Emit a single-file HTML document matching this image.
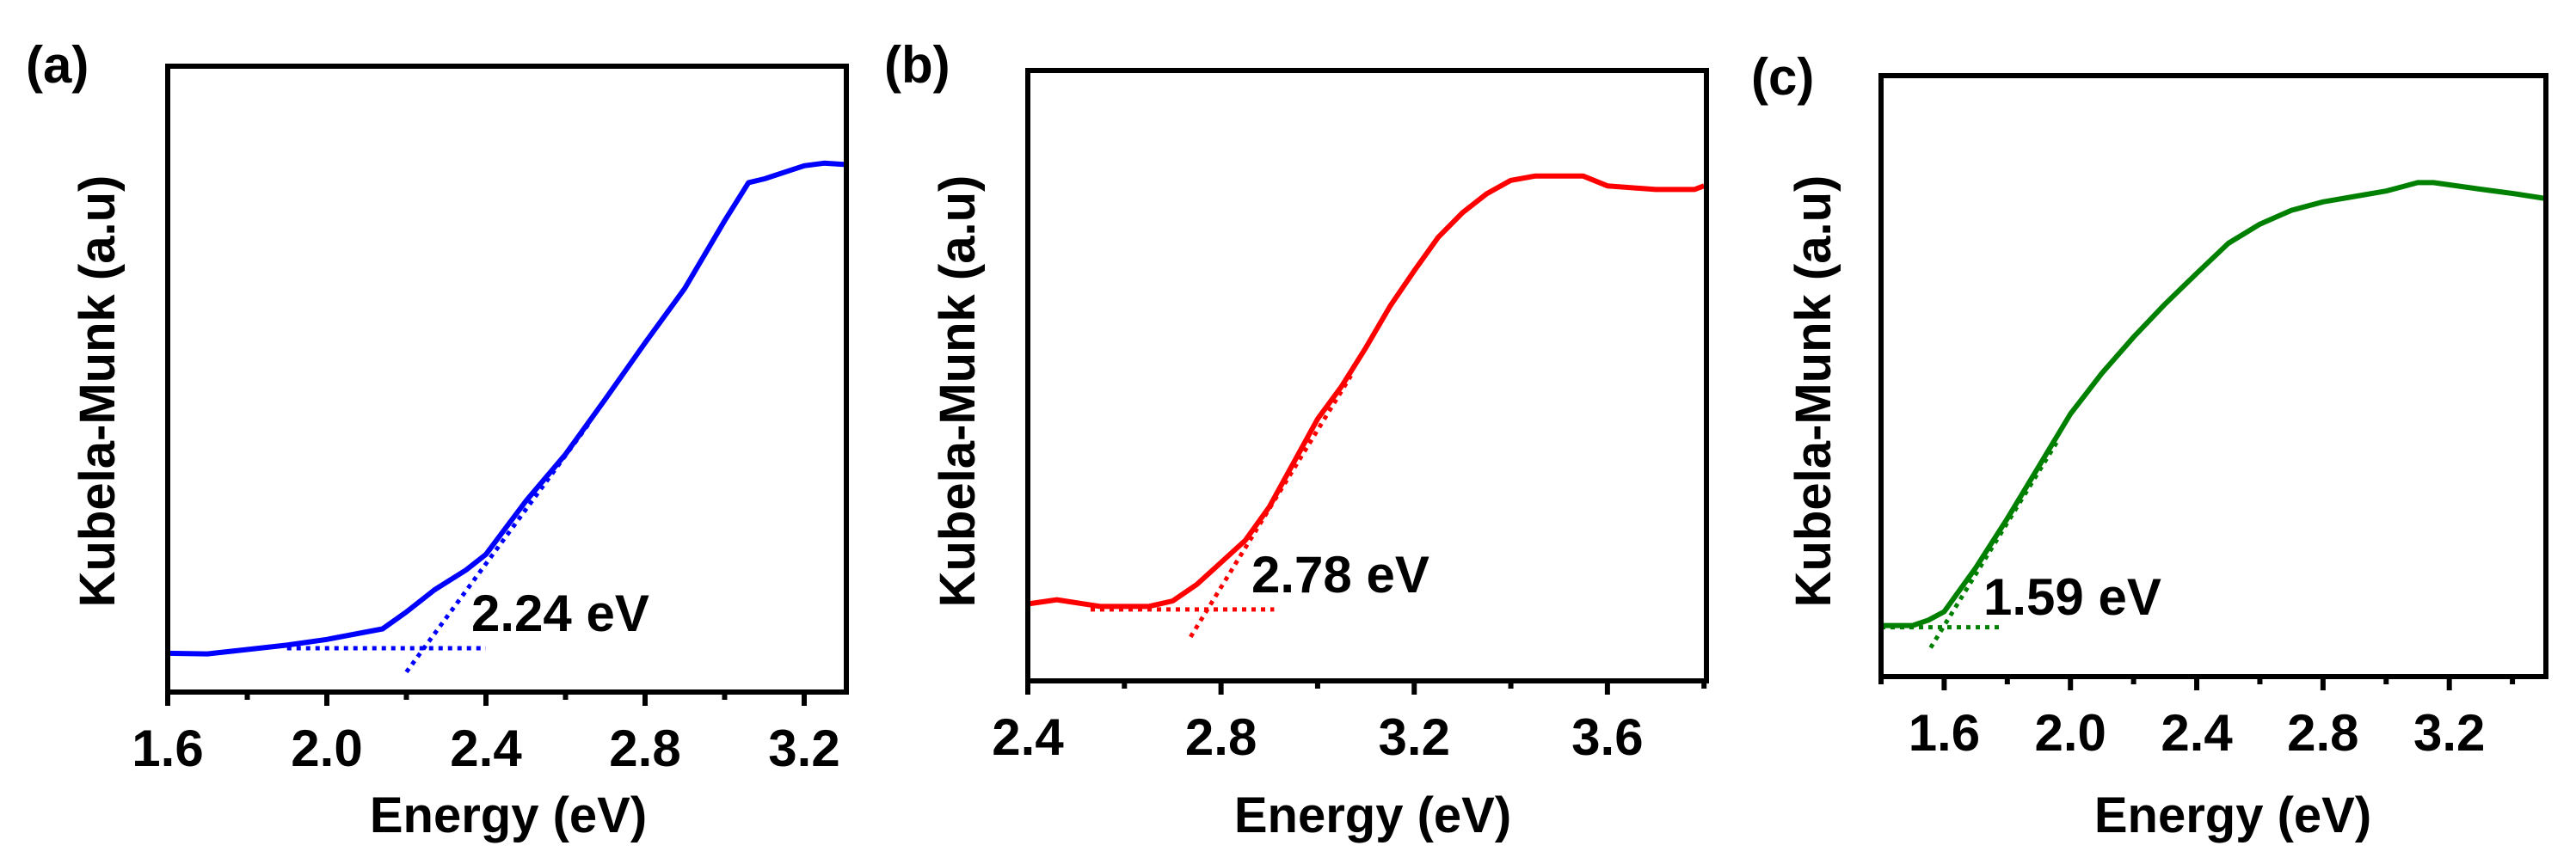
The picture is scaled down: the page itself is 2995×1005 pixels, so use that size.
<!DOCTYPE html>
<html><head><meta charset="utf-8"><style>
html,body{margin:0;padding:0;background:#fff;}
svg{display:block;}
text{font-family:"Liberation Sans",Arial,sans-serif;font-weight:bold;fill:#000;}
</style></head><body>
<svg id="fig" width="2995" height="1005" viewBox="0 0 2995 1005" xmlns="http://www.w3.org/2000/svg"></svg>
<script>
// Panel (a)
const energyA = [1.6,1.7,1.8,1.9,2.0,2.14,2.2,2.27,2.35,2.4,2.5,2.6,2.7,2.8,2.9,3.0,3.06,3.1,3.2,3.25,3.3];
const kmA = [6.2,6.1,6.8,7.5,8.4,10.1,12.8,16.3,19.5,22,30.5,38,46.8,55.8,64.5,75.3,81.4,82,84.1,84.5,84.3];
const baseA = [[1.9,7.0],[2.4,7.0]];
const tangA = [[2.2,3.2],[2.66,43]];
const ticksA = [1.6,2.0,2.4,2.8,3.2];
const gapA = "2.24 eV";
// Panel (b)
const energyB = [2.4,2.46,2.55,2.65,2.7,2.75,2.8,2.85,2.9,2.95,3.0,3.05,3.1,3.15,3.2,3.25,3.3,3.35,3.4,3.45,3.55,3.6,3.7,3.78,3.8];
const kmB = [12.6,13.3,12.2,12.2,13.1,15.8,19.4,23.0,28.5,35.7,42.9,48.3,54.6,61.4,67.2,72.7,76.7,79.8,82.0,82.7,82.7,81.1,80.5,80.5,81.1];
const baseB = [[2.53,11.7],[2.91,11.7]];
const tangB = [[2.737,7.2],[3.069,50]];
const ticksB = [2.4,2.8,3.2,3.6];
const gapB = "2.78 eV";
// Panel (c)
const energyC = [1.4,1.5,1.55,1.6,1.7,1.8,1.9,2.0,2.1,2.2,2.3,2.4,2.5,2.6,2.7,2.8,2.9,3.0,3.1,3.15,3.3,3.4,3.5];
const kmC = [8.5,8.5,9.4,10.8,18.1,26.3,35.0,43.7,50.5,56.5,62.0,67.1,72.1,75.3,77.6,79.0,79.9,80.8,82.2,82.2,81.1,80.4,79.6];
const baseC = [[1.4,8.2],[1.784,8.2]];
const tangC = [[1.557,4.8],[1.959,39.2]];
const ticksC = [1.6,2.0,2.4,2.8,3.2];
const gapC = "1.59 eV";

const NS="http://www.w3.org/2000/svg";
const svg=document.getElementById('fig');
function mk(tag,attrs,parent){const e=document.createElementNS(NS,tag);for(const k in attrs)e.setAttribute(k,attrs[k]);(parent||svg).appendChild(e);return e;}

function panel(cfg){
  const g=mk('g',{});
  
  
  const xs=e=>cfg.L+(e-cfg.x0)/(cfg.x1-cfg.x0)*(cfg.R-cfg.L);
  const ys=v=>cfg.B-v/100*(cfg.B-cfg.T);
  // ticks
  for(let i=0;i<cfg.ticks.length;i++){
    const t=cfg.ticks[i];
    const tk=mk('line',{x1:xs(t),x2:xs(t),y1:cfg.B,y2:cfg.B+16,stroke:'#000','stroke-width':6},g);
    
    
    const lb=mk('text',{x:xs(t),y:cfg.B+86,'font-size':60,'text-anchor':'middle'},g);
    
    
    lb.textContent=t.toFixed(1);
  }
  for(let m=cfg.ticks[0]-0.2;m<=cfg.x1+1e-6;m+=0.4){
    if(m<cfg.x0-1e-6)continue;
    const mt=mk('line',{x1:xs(m),x2:xs(m),y1:cfg.B,y2:cfg.B+9,stroke:'#000','stroke-width':6},g);
    
    
  }
  // dotted fits
  [cfg.base,cfg.tang].forEach((seg,k)=>{
    const l=mk('line',{x1:xs(seg[0][0]),y1:ys(seg[0][1]),x2:xs(seg[1][0]),y2:ys(seg[1][1]),stroke:cfg.color,'stroke-width':5,'stroke-dasharray':'5 6'},g);
    
    
  });
  // curve
  let d='';
  for(let i=0;i<cfg.e.length;i++){d+=(i?'L':'M')+xs(cfg.e[i]).toFixed(1)+','+ys(cfg.v[i]).toFixed(1);}
  const p=mk('path',{d:d,fill:'none',stroke:cfg.color,'stroke-width':6,'stroke-linejoin':'round'},g);
  
  
  // frame
  const f=mk('rect',{x:cfg.L,y:cfg.T,width:cfg.R-cfg.L,height:cfg.B-cfg.T,fill:'none',stroke:'#000','stroke-width':6},g);
  
  
  // labels
  const gl=mk('text',{x:cfg.gx,y:cfg.gy,'font-size':60},g);
  
  
  gl.textContent=cfg.gap;
  const xt=mk('text',{x:cfg.xtx,y:968,'font-size':58,'text-anchor':'middle'},g);
  
  
  xt.textContent='Energy (eV)';
  const yt=mk('text',{x:0,y:0,'font-size':58,'text-anchor':'middle',transform:'translate('+(cfg.ytx+21)+',455) rotate(-90)'},g);
  
  
  yt.textContent='Kubela-Munk (a.u)';
  const pl=mk('text',{x:cfg.px,y:cfg.py,'font-size':60},g);
  
  
  pl.textContent='('+cfg.id+')';
}
panel({id:'a',L:195,R:984,T:77,B:805,x0:1.6,x1:(1.6+789/462.5),e:energyA,v:kmA,base:baseA,tang:tangA,ticks:ticksA,color:'#0000ff',gap:gapA,gx:548,gy:734,xtx:591,ytx:112,px:30,py:96});
panel({id:'b',L:1195,R:1984,T:82,B:792,x0:2.4,x1:3.805,e:energyB,v:kmB,base:baseB,tang:tangB,ticks:ticksB,color:'#ff0000',gap:gapB,gx:1455,gy:689,xtx:1596,ytx:1112,px:1028,py:96});
panel({id:'c',L:2187,R:2960,T:88,B:787,x0:1.4,x1:3.506,e:energyC,v:kmC,base:baseC,tang:tangC,ticks:ticksC,color:'#008000',gap:gapC,gx:2306,gy:715,xtx:2596,ytx:2107,px:2036,py:110});
</script>
</body></html>
